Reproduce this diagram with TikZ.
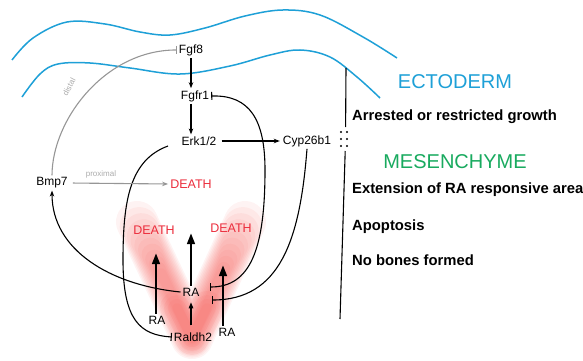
\documentclass[tikz,border=0pt]{standalone}
\usepackage{fontspec}
\setmainfont{Liberation Sans}
\usetikzlibrary{arrows.meta,calc}
\definecolor{ecto}{RGB}{30,160,215}
\definecolor{mes}{RGB}{25,170,95}
\definecolor{dred}{RGB}{235,45,60}
\definecolor{glow}{RGB}{245,85,80}
\definecolor{gline}{RGB}{150,150,150}
\begin{document}
\begin{tikzpicture}[x=1pt,y=-1pt,
  lbl/.style={inner sep=2pt, font=\fontsize{12}{14}\selectfont},
  dth/.style={inner sep=2pt, text=dred, font=\fontsize{12.5}{14}\selectfont},
  eff/.style={anchor=west, inner sep=0pt, font=\fontsize{14.8}{17}\selectfont\bfseries},
  big/.style={inner sep=0pt, font=\fontsize{20}{24}\selectfont},
  tiny/.style={inner sep=0pt, text=gline!80, font=\fontsize{8}{9}\selectfont},
  wave/.style={ecto, line width=1.5pt},
  ln/.style={line width=1.1pt},
  act/.style={ln, -{Stealth[length=6pt,width=4.5pt]}},
  inh/.style={ln, -{Bar[width=8pt]}},
  inhh/.style={ln, {Bar[width=8pt]}-{Bar[width=8pt]}},
  thk/.style={line width=2.6pt, -{Triangle[length=11pt,width=7.5pt]}},
  glowline/.style={glow, line cap=round, line join=round}
]
\useasboundingbox (0,0) rectangle (583,361);

% red glow
\coordinate (gL) at (137,222);
\coordinate (gR) at (245,222);
\coordinate (gB) at (192,338);
\foreach \i in {0,...,11} {
  \pgfmathsetmacro{\w}{42-2.9*\i}
  \pgfmathsetmacro{\f}{0.04*\i}
  \draw[glowline, opacity=0.07, line width=\w pt] ($(gL)!\f!(gB)$) -- (gB) -- ($(gR)!\f!(gB)$);
}
\foreach \w in {34,26,18,10} {
  \draw[glowline, opacity=0.08, line width=\w pt] (177,308) -- (gB) -- (207,308);
}

% ectoderm waves
\draw[wave] plot[smooth, tension=0.6] coordinates {(12,60) (33,38) (67,22) (105,24) (140,32) (170,35) (205,28) (245,16) (283,10) (320,15) (363,37) (397,58)};
\draw[wave] plot[smooth, tension=0.6] coordinates {(22,97) (40,74) (58,64) (90,63) (130,68) (180,74) (230,66) (270,55) (300,50) (330,57) (357,77) (380,98)};

% separator line
\draw[ln] (346,68) -- (345.6,127);
\foreach \yy in {132,139,146} {\fill (341,\yy) circle (1.1pt); \fill (347,\yy) circle (1.1pt);}
\draw[ln] (345.2,151) -- (340,319);

% nodes
\node[lbl] (fgf8) at (191,50) {Fgf8};
\node[lbl] (fgfr1) at (195,96) {Fgfr1};
\node[lbl] (erk) at (199,141) {Erk1/2};
\node[lbl] (cyp) at (307,141) {Cyp26b1};
\node[lbl] (bmp) at (52,183) {Bmp7};
\node[dth] (death1) at (191,184) {DEATH};
\node[dth] (death2) at (154,230) {DEATH};
\node[dth] (death3) at (231,228) {DEATH};
\node[lbl] (ra) at (191,292) {RA};
\node[lbl] (raldh) at (193,337) {Raldh2};
\node[lbl] (raL) at (157,320) {RA};
\node[lbl] (raR) at (227,332) {RA};
\node[tiny] (prox) at (101,174) {proximal};
\node[tiny, rotate=62] (dist) at (69,87) {distal};

\node[big, text=ecto] (ecto) at (455,82) {ECTODERM};
\node[big, text=mes] (mes) at (455,162) {MESENCHYME};
\node[eff] (e1) at (352,117) {Arrested or restricted growth};
\node[eff] (e2) at (352,190) {Extension of RA responsive area};
\node[eff] (e3) at (352,227) {Apoptosis};
\node[eff] (e4) at (352,260) {No bones formed};

\coordinate (erkL) at (168,146);
\coordinate (raT) at (210,287);
\coordinate (raB) at (212,300);
\coordinate (upC) at (191,233);
\coordinate (upL) at (156,253);
\coordinate (upR) at (223,265);

% connectors
\draw[act] (fgf8) -- (fgf8 |- fgfr1.north);
\draw[act] (fgf8 |- fgfr1.south) -- (fgf8 |- erk.north);
\draw[act, shorten <=3pt, shorten >=1pt] (erk.east) -- (cyp.west);
\draw[inhh] (fgfr1.east) .. controls (250,95) and (265,120) .. (265,170) .. controls (265,250) and (250,287) .. (raT);
\draw[inh] (cyp.south) .. controls (300,240) and (280,300) .. (raB);
\draw[inh] (erkL) .. controls (130,160) and (123,200) .. (123,260) .. controls (123,320) and (140,335) .. (raldh.west);
\draw[act] (ra.west) .. controls (110,285) and (52,250) .. (bmp.south);
\draw[ln, gline, -{Stealth[length=6pt,width=4.5pt]}, shorten <=3pt] (bmp.east) -- (death1.west);
\draw[ln, gline, -{Bar[width=8pt]}] (bmp.north) .. controls (52,120) and (105,50) .. (fgf8.west);

% thick RA arrows
\draw[thk] (upL |- raL.north) -- (upL);
\draw[thk] (ra.north) -- (upC);
\draw[thk] (upR |- raR.north) -- (upR);
\draw[ln, -{Triangle[length=6pt,width=4.5pt]}, shorten <=5pt, shorten >=4pt] (ra |- raldh.north) -- (ra.south);
\end{tikzpicture}
\end{document}
